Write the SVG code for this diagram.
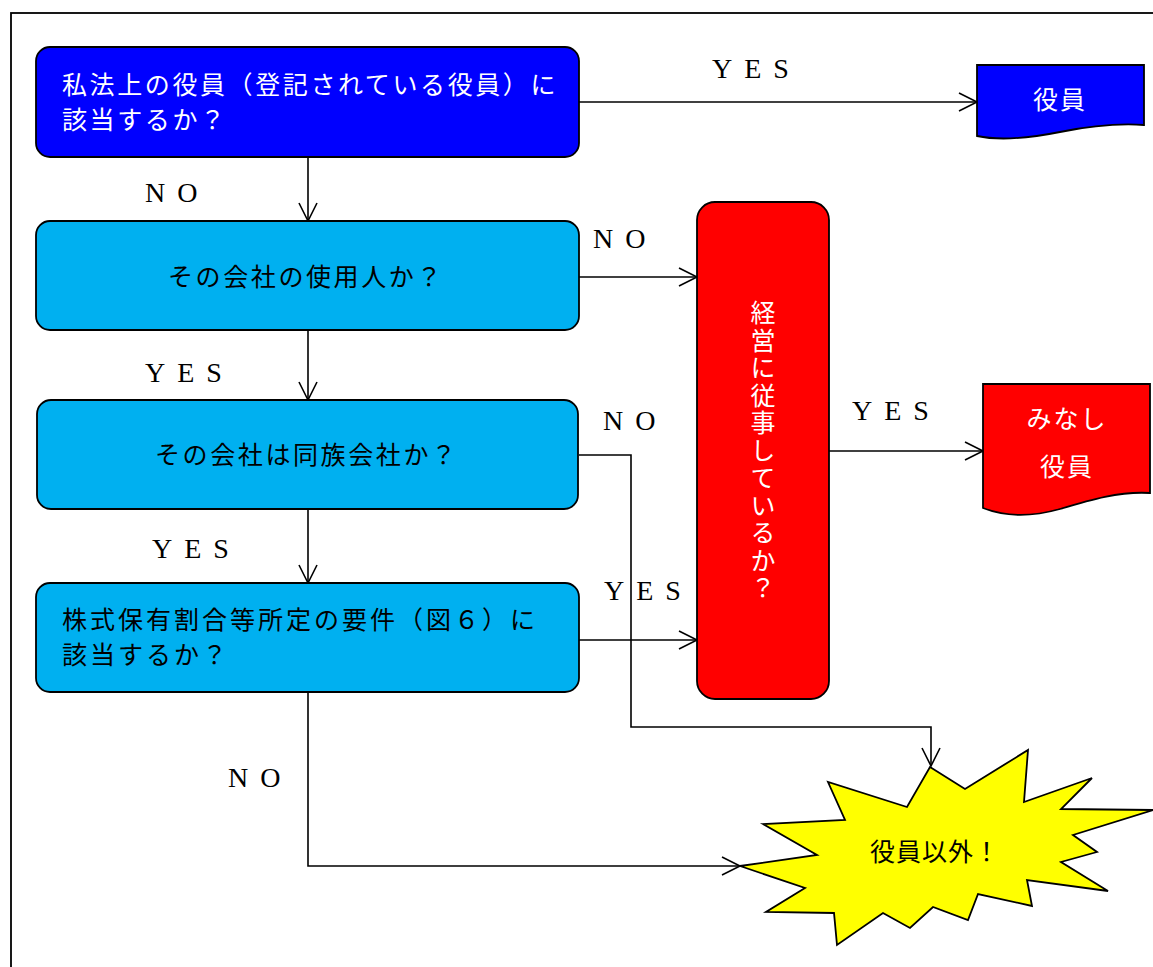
<svg xmlns="http://www.w3.org/2000/svg" width="1153" height="967" viewBox="0 0 1153 967">
<style>
.box{stroke:#000;stroke-width:1.8}
.jp{font-family:"Noto Sans CJK JP","Noto Sans CJK SC",sans-serif;font-size:25px;letter-spacing:2.6px}
.w{fill:#fff}
.k{fill:#000}
.lbl{font-family:"Liberation Serif",serif;font-size:28px;letter-spacing:12px;fill:#000}
.con{fill:none;stroke:#000;stroke-width:1.6}
</style>
<defs>
<marker id="arr" markerUnits="userSpaceOnUse" markerWidth="22" markerHeight="22" refX="18" refY="9" orient="auto" viewBox="-1 -1 22 22">
<path d="M0,0 L18,9 L0,18" fill="none" stroke="#000" stroke-width="1.6"/>
</marker>
</defs>
<rect width="1153" height="967" fill="#fff"/>
<rect x="11" y="13" width="1300" height="1100" fill="none" stroke="#000" stroke-width="1.8"/>

<g id="connectors">
<path class="con" d="M579,102 H977" marker-end="url(#arr)"/>
<path class="con" d="M308,157 V221" marker-end="url(#arr)"/>
<path class="con" d="M579,277 H697" marker-end="url(#arr)"/>
<path class="con" d="M308,330 V400" marker-end="url(#arr)"/>
<path class="con" d="M579,455 H631 V727 H931 V766" marker-end="url(#arr)"/>
<path class="con" d="M308,509 V583" marker-end="url(#arr)"/>
<path class="con" d="M579,640 H697" marker-end="url(#arr)"/>
<path class="con" d="M308,692 V866 H740" marker-end="url(#arr)"/>
<path class="con" d="M829,451 H983" marker-end="url(#arr)"/>
<text class="lbl" x="712" y="78">YES</text>
<text class="lbl" x="145" y="202">NO</text>
<text class="lbl" x="593" y="248">NO</text>
<text class="lbl" x="145" y="382">YES</text>
<text class="lbl" x="603" y="430">NO</text>
<text class="lbl" x="152" y="558">YES</text>
<text class="lbl" x="604" y="600">YES</text>
<text class="lbl" x="852" y="420">YES</text>
<text class="lbl" x="228" y="787">NO</text>
</g>

<g id="q1">
<rect class="box" x="36" y="47" width="543" height="110" rx="14" fill="#0000ff"/>
<text class="jp w" x="62" y="94">私法上の役員（登記されている役員）に</text>
<text class="jp w" x="62" y="129">該当するか？</text>
</g>

<g id="q2">
<rect class="box" x="36" y="221" width="543" height="109" rx="14" fill="#00b0f0"/>
<text class="jp k" x="168" y="286">その会社の使用人か？</text>
</g>

<g id="q3">
<rect class="box" x="37" y="400" width="541" height="109" rx="14" fill="#00b0f0"/>
<text class="jp k" x="155" y="464">その会社は同族会社か？</text>
</g>

<g id="q4">
<rect class="box" x="36" y="583" width="543" height="109" rx="14" fill="#00b0f0"/>
<text class="jp k" x="62" y="629" style="letter-spacing:3px">株式保有割合等所定の要件（図６）に</text>
<text class="jp k" x="62" y="664" style="letter-spacing:3px">該当するか？</text>
</g>

<g id="q5">
<rect class="box" x="697" y="202" width="132" height="497" rx="18" fill="#ff0000"/>
<text class="jp w" x="763" y="300" style="writing-mode:vertical-rl;letter-spacing:2.5px">経営に従事しているか？</text>
</g>

<g id="r1">
<path class="box" d="M977,65 H1144 V125 C1115,123 1085,127 1060,132 C1030,138 1000,141 977,136 Z" fill="#0000ff"/>
<text class="jp w" x="1060" y="109" text-anchor="middle" style="letter-spacing:2px">役員</text>
</g>

<g id="r2">
<path class="box" d="M983,384 H1150 V493 C1120,491 1090,500 1060,509 C1035,516 1008,518 983,508 Z" fill="#ff0000"/>
<text class="jp w" x="1067" y="428" text-anchor="middle" style="letter-spacing:2px">みなし</text>
<text class="jp w" x="1067" y="476" text-anchor="middle" style="letter-spacing:2px">役員</text>
</g>

<g id="r3">
<polygon class="box" fill="#ffff00" points="930,767 965,789 1028,750 1024,802 1092,778 1061,809 1153,810 1073,835 1097,852 1061,862 1108,891 1027,880 1032,906 978,894 968,920 933,907 910,928 883,913 837,945 834,913 766,912 805,888 740,866 817,855 763,824 845,820 828,782 907,807"/>
<text class="jp k" x="935" y="861" text-anchor="middle" style="letter-spacing:1px">役員以外！</text>
</g>
</svg>
